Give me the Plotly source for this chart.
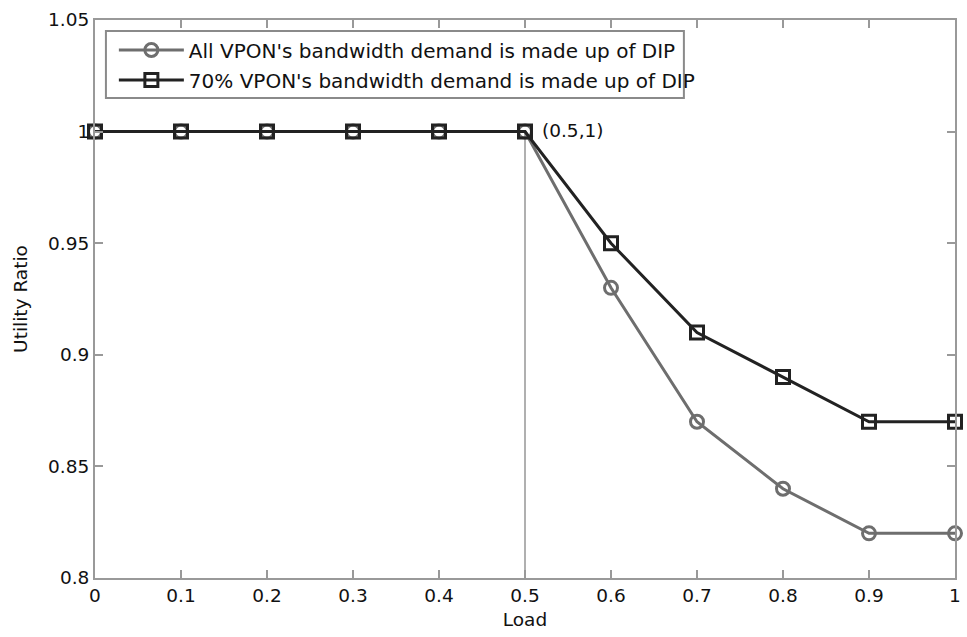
import plotly.graph_objects as go

load = [0, 0.1, 0.2, 0.3, 0.4, 0.5, 0.6, 0.7, 0.8, 0.9, 1.0]
all_dip = [1, 1, 1, 1, 1, 1, 0.93, 0.87, 0.84, 0.82, 0.82]
dip70 = [1, 1, 1, 1, 1, 1, 0.95, 0.91, 0.89, 0.87, 0.87]
name_all = "All VPON's bandwidth demand is made up of DIP"
name_70 = "70% VPON's bandwidth demand is made up of DIP"
x_ticks = [0, 0.1, 0.2, 0.3, 0.4, 0.5, 0.6, 0.7, 0.8, 0.9, 1]
x_labels = ["0", "0.1", "0.2", "0.3", "0.4", "0.5", "0.6", "0.7", "0.8", "0.9", "1"]
y_ticks = [0.8, 0.85, 0.9, 0.95, 1.0, 1.05]
y_labels = ["0.8", "0.85", "0.9", "0.95", "1", "1.05"]
mark_x, mark_y = 0.5, 1.0
mark_text = "(0.5,1)"

FONT = "DejaVu Sans, Verdana, sans-serif"
FS = 18.5
W, H = 967, 637
ml, mr, mt, mb = 95, 6, 20, 59
pw, ph = W - ml - mr, H - mt - mb

def px(xp):
    return (xp - ml) / pw

def py(yp):
    return 1 - (yp - mt) / ph

fig = go.Figure()
fig.add_trace(go.Scatter(
    x=load, y=all_dip, name=name_all, mode="lines+markers",
    line=dict(color="#6e6e6e", width=3),
    marker=dict(symbol="circle-open", size=13, color="#6e6e6e", line=dict(width=3, color="#6e6e6e")),
    cliponaxis=False, legend="legend"))
fig.add_trace(go.Scatter(
    x=load, y=dip70, name=name_70, mode="lines+markers",
    line=dict(color="#222222", width=3),
    marker=dict(symbol="square-open", size=13, color="#222222", line=dict(width=3, color="#222222")),
    cliponaxis=False, legend="legend2"))

# vertical reference line at x = 0.5
fig.add_shape(type="line", x0=mark_x, x1=mark_x, y0=y_ticks[0], y1=mark_y,
              xref="x", yref="y", line=dict(color="#b0b0b0", width=2), layer="below")
fig.add_annotation(x=mark_x, y=mark_y, text=mark_text, showarrow=False,
                   xanchor="left", yanchor="middle", xshift=15, yshift=1,
                   font=dict(family=FONT, size=FS, color="#111"))

# legend frame
fig.add_shape(type="rect", xref="paper", yref="paper",
              x0=px(106), x1=px(688), y0=py(98), y1=py(31),
              line=dict(color="#8a8a8a", width=2), fillcolor="white", layer="above")

leg_common = dict(font=dict(family=FONT, size=20, color="#111"), bgcolor="rgba(0,0,0,0)",
                  borderwidth=0, xanchor="left", yanchor="middle", itemwidth=65)
fig.update_layout(
    legend=dict(x=px(114), y=py(50), **leg_common),
    legend2=dict(x=px(114), y=py(80), **leg_common),
)

axis_common = dict(showline=True, linecolor="#999999", linewidth=2, mirror="ticks",
                   ticks="inside", ticklen=8, tickwidth=1.5, tickcolor="#999999",
                   showgrid=False, zeroline=False,
                   tickfont=dict(family=FONT, size=FS, color="#111"))
fig.update_xaxes(range=[0, 1], tickvals=x_ticks, ticktext=x_labels,
                 title=dict(text="Load", font=dict(family=FONT, size=FS, color="#111"), standoff=8),
                 **axis_common)
fig.update_yaxes(range=[0.8, 1.05], tickvals=y_ticks, ticktext=y_labels,
                 title=dict(text="Utility Ratio", font=dict(family=FONT, size=FS, color="#111"), standoff=16),
                 **axis_common)
fig.update_layout(width=W, height=H, margin=dict(l=ml, r=mr, t=mt, b=mb),
                  plot_bgcolor="white", paper_bgcolor="white", showlegend=True)
fig.write_html("out.html")
